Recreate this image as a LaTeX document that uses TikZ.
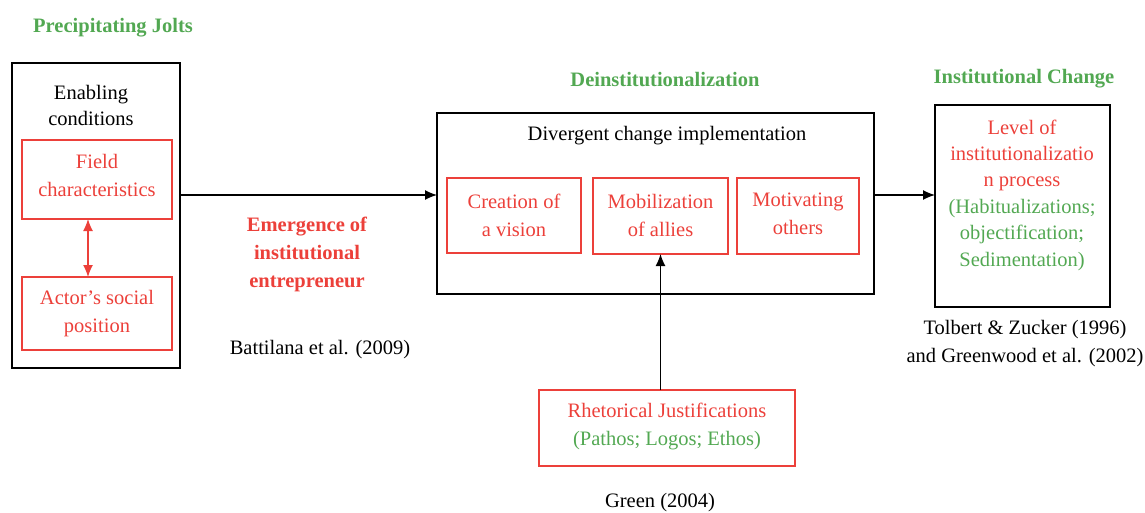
\documentclass[tikz,border=0pt]{standalone}
\usepackage{fontspec}
\setmainfont{Liberation Serif}
\usetikzlibrary{arrows.meta}
\definecolor{rd}{RGB}{236,64,58}
\definecolor{gn}{RGB}{82,168,82}
\begin{document}
\begin{tikzpicture}[x=1pt,y=-1pt,
  bbox/.style={draw=black,line width=1.4pt,inner sep=0pt,outer sep=0pt},
  rbox/.style={draw=rd,line width=1.2pt,inner sep=0pt,outer sep=0pt},
  txt/.style={align=center,inner sep=0pt,font=\fontsize{20.5}{28}\selectfont},
  ttl/.style={align=center,inner sep=0pt,text=gn,font=\fontsize{20.5}{28}\selectfont\bfseries},
  arr/.style={line width=1.3pt,-{Latex[length=12pt,width=10pt]}},
  rarr/.style={draw=rd,line width=1.3pt,{Latex[length=12pt,width=10pt]}-{Latex[length=12pt,width=10pt]}}
]
\useasboundingbox (0,0) rectangle (1145,513);
% boxes
\node[bbox,minimum width=168pt,minimum height=305pt] (outer) at (96,215.5) {};
\node[rbox,minimum width=150pt,minimum height=79pt] (field) at (97,179.5) {};
\node[rbox,minimum width=150pt,minimum height=73pt] (actor) at (97,313.5) {};
\node[bbox,minimum width=437pt,minimum height=181pt] (big) at (655.5,203.5) {};
\node[rbox,minimum width=134pt,minimum height=75pt] (creation) at (514,215.5) {};
\node[rbox,minimum width=135pt,minimum height=76pt] (mobil) at (660.5,216) {};
\node[rbox,minimum width=122pt,minimum height=76pt] (motiv) at (798,216) {};
\node[bbox,minimum width=175pt,minimum height=202pt] (level) at (1022.5,206) {};
\node[rbox,minimum width=256pt,minimum height=76pt] (rhet) at (667,428) {};
% titles
\node[ttl] (t1) at (113,28) {Precipitating Jolts};
\node[ttl] (t2) at (665,80) {Deinstitutionalization};
\node[ttl] (t3) at (1024,79) {Institutional Change};
% texts
\node[txt,font=\fontsize{20.5}{26}\selectfont] (enab) at (91,105) {Enabling\\conditions};
\node[txt,text=rd] (fieldT) at (97,175.5) {Field\\characteristics};
\node[txt,text=rd] (actorT) at (97,314) {Actor’s social\\position};
\node[txt,text=rd,font=\fontsize{20.5}{28}\selectfont\bfseries] (emerg) at (307,254) {Emergence of\\institutional\\entrepreneur};
\node[txt] (batt) at (320,350) {Battilana et al. (2009)};
\node[txt] (div) at (667,136) {Divergent change implementation};
\node[txt,text=rd] (creationT) at (514,215) {Creation of\\a vision};
\node[txt,text=rd] (mobilT) at (660.5,215) {Mobilization\\of allies};
\node[txt,text=rd] (motivT) at (798,214) {Motivating\\others};
\node[txt,font=\fontsize{20.5}{26.4}\selectfont] (levelT) at (1022,195) {\textcolor{rd}{Level of}\\\textcolor{rd}{institutionalizatio}\\\textcolor{rd}{n process}\\\textcolor{gn}{(Habitualizations;}\\\textcolor{gn}{objectification;}\\\textcolor{gn}{Sedimentation)}};
\node[txt] (tolb) at (1025,344) {Tolbert \& Zucker (1996)\\and Greenwood et al. (2002)};
\node[txt] (rhetT) at (667,426) {\textcolor{rd}{Rhetorical Justifications}\\\textcolor{gn}{(Pathos; Logos; Ethos)}};
\node[txt] (green) at (660,503) {Green (2004)};
% connectors
\draw[arr] (outer.east |- 0,195) -- (big.west |- 0,195);
\draw[arr] (big.east |- 0,195) -- (level.west |- 0,195);
\draw[arr] (mobil.south |- rhet.north) -- (mobil.south);
\draw[rarr] ([xshift=-9pt]field.south) -- ([xshift=-9pt]actor.north);
\end{tikzpicture}
\end{document}
